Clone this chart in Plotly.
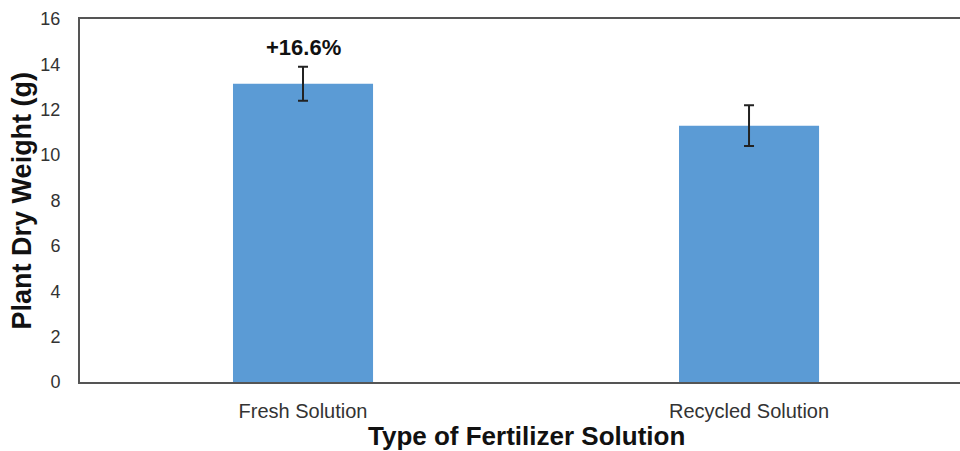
import plotly.graph_objects as go

categories = ["Fresh Solution", "Recycled Solution"]
dry_weight = [13.15, 11.3]
error_sd = [0.75, 0.9]
y_ticks = [0, 2, 4, 6, 8, 10, 12, 14, 16]
annotation_text = "+16.6%"
annotation_y = 14.75

FONT = "Liberation Sans, Arial, Helvetica, sans-serif"
LINE = "#555555"

fig = go.Figure()
fig.add_trace(go.Bar(
    x=categories,
    y=dry_weight,
    width=0.314,
    marker=dict(color="#5B9BD5", line=dict(width=0)),
    error_y=dict(type="data", array=error_sd, visible=True,
                 color="#222222", thickness=2, width=5),
))

fig.add_annotation(x=categories[0], y=annotation_y, text="<b>" + annotation_text + "</b>",
                   showarrow=False, font=dict(family=FONT, size=22, color="#111111"),
                   xanchor="center", yanchor="middle")

fig.add_annotation(xref="paper", yref="paper", x=-0.066, y=0.5,
                   text="<b>Plant Dry Weight (g)</b>", textangle=-90, showarrow=False,
                   font=dict(family=FONT, size=27, color="#111111"),
                   xanchor="center", yanchor="middle")

fig.add_annotation(xref="x", yref="paper", x=0.5, y=-0.15,
                   text="<b>Type of Fertilizer Solution</b>", showarrow=False,
                   font=dict(family=FONT, size=26, color="#111111"),
                   xanchor="center", yanchor="middle")

fig.update_layout(
    width=960, height=451,
    margin=dict(l=80, r=0, t=19, b=69),
    paper_bgcolor="white", plot_bgcolor="white",
    showlegend=False,
    font=dict(family=FONT, color="#333333"),
    xaxis=dict(
        range=[-0.5, 1.473],
        showline=True, linecolor=LINE, linewidth=2, mirror=True,
        showgrid=False, zeroline=False, ticks="",
        tickfont=dict(size=20, color="#333333"),
        ticklabelstandoff=10,
    ),
    yaxis=dict(
        range=[0, 16], tickvals=y_ticks,
        showline=True, linecolor=LINE, linewidth=2, mirror=False,
        showgrid=False, zeroline=False, ticks="",
        tickfont=dict(size=18, color="#333333"),
        ticklabelstandoff=14,
    ),
)

fig.write_html("out.html", config={"displayModeBar": False},
               post_script="document.body.style.margin='0';document.body.style.overflow='hidden';document.documentElement.style.overflow='hidden';")
